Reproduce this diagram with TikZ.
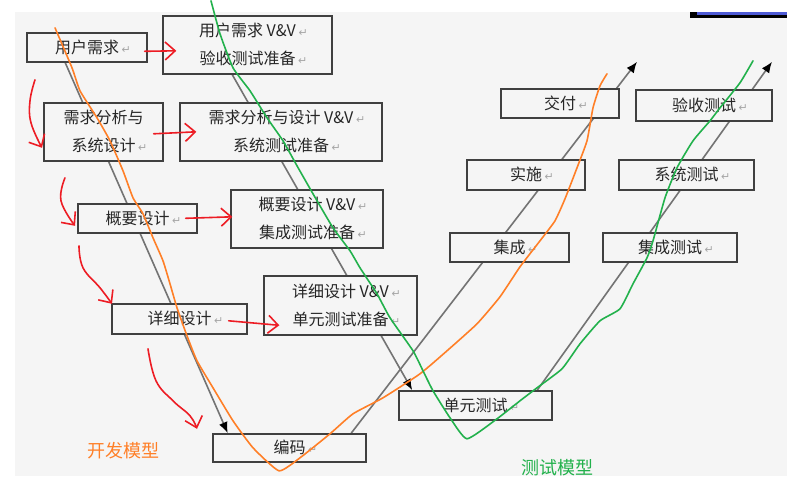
\documentclass[tikz,border=0pt]{standalone}
\usepackage{fontspec}
\newfontfamily\cjk{Noto Sans CJK SC}
\newfontfamily\symf{DejaVu Sans}
\usetikzlibrary{arrows.meta,calc,backgrounds}
\definecolor{paper}{HTML}{F5F5F5}
\definecolor{pen}{HTML}{ED1C24}
\definecolor{devorange}{HTML}{FF7F27}
\definecolor{testgreen}{HTML}{22B14C}
\definecolor{tabblue}{HTML}{4F5BD5}
\newcommand\ret{\rlap{\,\textcolor{black!35}{\symf\fontsize{11}{11}\selectfont ↵}}}

\begin{document}
\begin{tikzpicture}[
  x=1pt,y=-1pt,
  font=\cjk\fontsize{16}{28}\selectfont,
  box/.style={draw=black!75,line width=1.4pt,fill=paper,text=black!85,
              align=center,inner sep=0pt},
  single/.style={box,minimum height=29pt},
  double/.style={box,minimum height=58pt},
  vline/.style={draw=black!55,line width=1.6pt,
                -{Latex[length=11pt,width=9pt,color=black]}},
  redpen/.style={draw=pen,line width=1.6pt,line cap=round,line join=round},
  redarrow/.style={redpen,-{Straight Barb[length=10pt,width=18pt]}},
  sketch/.style={line width=1.6pt,line cap=round,line join=round},
  tag/.style={font=\cjk\fontsize{18}{18}\selectfont}
]
  \begin{scope}[on background layer]
    \useasboundingbox (0,0) rectangle (799,497);
    \fill[white] (0,0) rectangle (799,497);
    \fill[paper] (15,11) rectangle (787,475);
    \fill[black] (690,11) rectangle (787,17);
    \fill[tabblue] (697,11) rectangle (787,14);
  \end{scope}

  \node[single,minimum width=120pt] (req) at (87,46.5) {用户需求\ret};
  \node[double,minimum width=169pt] (reqvv) at (247.5,44)
    {用户需求 V\&V\ret\\验收测试准备\ret};
  \node[double,minimum width=119pt] (ana) at (103.5,131)
    {需求分析与\\系统设计\ret};
  \node[double,minimum width=202pt] (anavv) at (281,131)
    {需求分析与设计 V\&V\ret\\系统测试准备\ret};
  \node[single,minimum width=119pt] (arch) at (137.5,217.5) {概要设计\ret};
  \node[double,minimum width=152pt] (archvv) at (307,218)
    {概要设计 V\&V\ret\\集成测试准备\ret};
  \node[single,minimum width=135pt,minimum height=30pt] (det) at (179.5,318)
    {详细设计\ret};
  \node[double,minimum width=153pt,minimum height=59pt] (detvv) at (340.5,304.5)
    {详细设计 V\&V\ret\\单元测试准备\ret};
  \node[single,minimum width=153pt,minimum height=28pt] (code) at (289.5,447)
    {编码\ret};
  \node[single,minimum width=153pt] (unit) at (475.5,404.5) {单元测试\ret};

  \node[single,minimum width=119pt] (integ) at (509.5,246.5) {集成\ret};
  \node[single,minimum width=118pt,minimum height=30pt] (impl) at (526,174)
    {实施\ret};
  \node[single,minimum width=118pt] (deliv) at (560,102.5) {交付\ret};
  \node[single,minimum width=134pt] (itest) at (670,246.5) {集成测试\ret};
  \node[single,minimum width=135pt,minimum height=30pt] (stest) at (686.5,174)
    {系统测试\ret};
  \node[single,minimum width=136pt,minimum height=31pt] (atest) at (704,104.5)
    {验收测试\ret};

  \coordinate (devtop) at (637,61);
  \coordinate (testtop) at (772,61);

  \begin{scope}[on background layer]
    \draw[vline] ($(req.south west)!0.32!(req.south east)$)
      -- ($(code.north west)!0.1!(code.north east)$);
    \draw[vline] ($(reqvv.south west)!0.41!(reqvv.south east)$)
      -- ($(unit.north west)!0.09!(unit.north east)$);
    \draw[vline] ($(code.north west)!0.9!(code.north east)$) -- (devtop);
    \draw[vline] ($(unit.north west)!0.9!(unit.north east)$) -- (testtop);
  \end{scope}

  \draw[redarrow] ([shift={(-3,4)}]req.east) -- ([shift={(14,6)}]reqvv.west);
  \draw[redarrow] ([shift={(-10,2)}]ana.east) -- ([shift={(17,0)}]anavv.west);
  \draw[redarrow] ([shift={(-12,0)}]arch.east) -- ([shift={(2,-2)}]archvv.west);
  \draw[redarrow] ([shift={(-19,2)}]det.east) -- ([shift={(16,20)}]detvv.west);

  \draw[redarrow] plot[smooth,tension=0.7]
    coordinates {(35,79) (30,100) (31,122) (42,147)};
  \draw[redarrow] plot[smooth,tension=0.7]
    coordinates {(65,177) (61,200) (75,225)};
  \draw[redarrow] plot[smooth,tension=0.7]
    coordinates {(79,245) (83,267) (100,287) (112,303)};
  \draw[redarrow] plot[smooth,tension=0.7]
    coordinates {(148,348) (156,380) (173,400) (190,415) (197,428)};

  \draw[sketch,devorange] plot[smooth,tension=0.3] coordinates {
    (55,27) (72,67) (80,90) (97,117) (110,140) (123,170) (133,197)
    (143,213) (153,237) (163,260) (170,283) (177,307) (187,335)
    (197,360) (213,387) (233,420) (253,447) (279,470) (300,457)
    (330,433) (353,413) (383,397) (420,373) (447,350) (477,323)
    (500,296) (520,266) (540,240) (555,220) (565,198)
    (577,167) (587,140) (593,107) (600,85) (607,73)};
  \draw[sketch,testgreen] plot[smooth,tension=0.3] coordinates {
    (211,0) (220,33) (233,67) (250,90) (267,117) (283,140) (297,165)
    (313,193) (333,227) (350,250) (360,267) (377,293) (390,317)
    (413,350) (423,370) (433,390) (450,417) (467,438) (497,418)
    (520,400) (537,387) (562,368) (580,343) (600,320) (620,308)
    (633,283) (647,257) (653,240) (665,197) (677,167) (693,140)
    (710,120) (720,107) (740,82) (753,60)};

  \node[tag,text=devorange] (devname) at (123.5,450) {开发模型};
  \node[tag,text=testgreen] (testname) at (557.5,467) {测试模型};
\end{tikzpicture}
\end{document}
